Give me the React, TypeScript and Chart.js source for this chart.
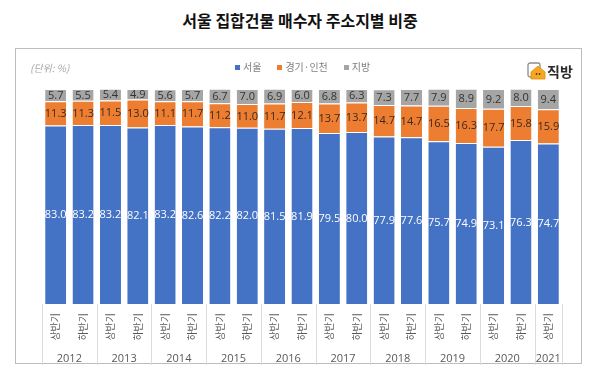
import React, { useEffect, useRef } from "react";
import { Chart, registerables } from "chart.js";

Chart.register(...registerables);

const halfLabels = [
  "상반기", "하반기", "상반기", "하반기", "상반기", "하반기", "상반기", "하반기",
  "상반기", "하반기", "상반기", "하반기", "상반기", "하반기", "상반기", "하반기",
  "상반기", "하반기", "상반기",
];
const categoryYears = [
  "2012", "2012", "2013", "2013", "2014", "2014", "2015", "2015", "2016", "2016",
  "2017", "2017", "2018", "2018", "2019", "2019", "2020", "2020", "2021",
];
const seriesNames = ["서울", "경기·인천", "지방"];
const seoul = [83.0, 83.2, 83.2, 82.1, 83.2, 82.6, 82.2, 82.0, 81.5, 81.9, 79.5, 80.0, 77.9, 77.6, 75.7, 74.9, 73.1, 76.3, 74.7];
const gyeonggi = [11.3, 11.3, 11.5, 13.0, 11.1, 11.7, 11.2, 11.0, 11.7, 12.1, 13.7, 13.7, 14.7, 14.7, 16.5, 16.3, 17.7, 15.8, 15.9];
const regional = [5.7, 5.5, 5.4, 4.9, 5.6, 5.7, 6.7, 7.0, 6.9, 6.0, 6.8, 6.3, 7.3, 7.7, 7.9, 8.9, 9.2, 8.0, 9.4];

const COLORS = ["#4472C4", "#ED7D31", "#A5A5A5"];
const LABEL_COLORS = ["#ffffff", "#3b2a1e", "#333333"];
const KFONT = "'Noto Sans CJK KR', 'Noto Sans', sans-serif";
const NFONT = "'Open Sans', 'Noto Sans', sans-serif";

const valueLabelPlugin = {
  id: "valueLabels",
  afterDatasetsDraw(chart: any) {
    const ctx = chart.ctx;
    ctx.save();
    ctx.font = `11px ${NFONT}`;
    ctx.textAlign = "center";
    ctx.textBaseline = "middle";
    chart.data.datasets.forEach((ds: any, di: number) => {
      const meta = chart.getDatasetMeta(di);
      ctx.fillStyle = LABEL_COLORS[di];
      meta.data.forEach((el: any, i: number) => {
        const { x, y, base } = el.getProps(["x", "y", "base"], true);
        ctx.fillText(ds.data[i].toFixed(1), x, (y + base) / 2 + 0.5);
      });
    });
    ctx.restore();
  },
};

const yearGroupPlugin = {
  id: "yearGroups",
  afterDraw(chart: any) {
    const ctx = chart.ctx;
    const xs = chart.scales.x;
    const step = xs.getPixelForValue(1) - xs.getPixelForValue(0);
    const top = chart.chartArea.bottom;
    const bottom = xs.bottom;
    ctx.save();
    ctx.strokeStyle = "#dcdcdc";
    ctx.lineWidth = 1;
    ctx.font = `11px ${NFONT}`;
    ctx.fillStyle = "#595959";
    ctx.textAlign = "center";
    ctx.textBaseline = "middle";
    let start = 0;
    for (let i = 1; i <= categoryYears.length; i++) {
      if (i === categoryYears.length || categoryYears[i] !== categoryYears[start]) {
        const left = xs.getPixelForValue(start) - step / 2;
        const right = xs.getPixelForValue(i - 1) + step / 2;
        ctx.beginPath();
        ctx.moveTo(Math.round(left) + 0.5, top);
        ctx.lineTo(Math.round(left) + 0.5, bottom);
        ctx.moveTo(Math.round(right) + 0.5, top);
        ctx.lineTo(Math.round(right) + 0.5, bottom);
        ctx.stroke();
        ctx.fillText(categoryYears[start], (left + right) / 2, bottom - 6);
        start = i;
      }
    }
    ctx.restore();
  },
};

function ChartBox() {
  const ref = useRef<HTMLCanvasElement | null>(null);
  useEffect(() => {
    if (!ref.current) return;
    const chart = new Chart(ref.current, {
      type: "bar",
      data: {
        labels: halfLabels,
        datasets: [seoul, gyeonggi, regional].map((d, i) => ({
          label: seriesNames[i],
          data: d,
          backgroundColor: COLORS[i],
          borderColor: "#ffffff",
          borderWidth: { top: 1, left: 0, right: 0, bottom: 0 },
          borderSkipped: false,
          barPercentage: 0.77,
          categoryPercentage: 1,
        })),
      },
      options: {
        responsive: false,
        animation: false,
        devicePixelRatio: 1,
        layout: { padding: { left: 42, right: 38, top: 89, bottom: 18 } },
        plugins: { legend: { display: false }, tooltip: { enabled: false } },
        scales: {
          x: {
            stacked: true,
            grid: { display: false, drawTicks: false },
            border: { display: false },
            ticks: {
              autoSkip: false,
              minRotation: 90,
              maxRotation: 90,
              padding: 9,
              color: "#595959",
              font: { size: 10, family: KFONT },
            },
            afterFit(scale: any) {
              scale.height = 61;
            },
          },
          y: {
            stacked: true,
            display: false,
            min: 0,
            max: 100,
          },
        },
      } as any,
      plugins: [valueLabelPlugin, yearGroupPlugin],
    });
    return () => chart.destroy();
  }, []);
  return (
    <canvas
      ref={ref}
      width={600}
      height={383}
      style={{ position: "absolute", left: 0, top: 0, width: 600, height: 383 }}
    />
  );
}

export default function App() {
  return (
    <div
      style={{
        position: "fixed",
        left: 0,
        top: 0,
        width: 600,
        height: 383,
        background: "#ffffff",
        fontFamily: KFONT,
        overflow: "hidden",
      }}
    >
      <div
        style={{
          position: "absolute",
          left: 0,
          top: 8,
          width: 600,
          textAlign: "center",
          fontSize: 16,
          fontWeight: 700,
          color: "#111",
          lineHeight: "24px",
        }}
      >
        서울 집합건물 매수자 주소지별 비중
      </div>
      <div
        style={{
          position: "absolute",
          left: 15,
          top: 48,
          width: 567,
          height: 316,
          border: "1px solid #bdbdbd",
          boxSizing: "border-box",
        }}
      />
      <ChartBox />
      <div
        style={{
          position: "absolute",
          left: 30,
          top: 60,
          fontSize: 10,
          fontStyle: "italic",
          color: "#a6a6a6",
          lineHeight: "16px",
        }}
      >
        (단위: %)
      </div>
      <div
        style={{
          position: "absolute",
          left: 235,
          top: 59,
          display: "flex",
          alignItems: "center",
          fontSize: 10,
          color: "#808080",
          lineHeight: "16px",
        }}
      >
        {seriesNames.map((n, i) => (
          <span key={n} style={{ display: "flex", alignItems: "center", marginRight: i < 2 ? 16 : 0 }}>
            <span style={{ width: 5, height: 5, background: COLORS[i], marginRight: 3, display: "inline-block" }} />
            {n}
          </span>
        ))}
      </div>
      <div
        style={{
          position: "absolute",
          left: 527,
          top: 62,
          display: "flex",
          alignItems: "center",
        }}
      >
        <svg width="19" height="18" viewBox="0 0 19 18">
          <rect x="1" y="1" width="12" height="14" rx="2" fill="#ffffff" stroke="#8c8c8c" strokeWidth="1.3" />
          <path d="M4 10 L11 4 L18 10 L18 17 L4 17 Z" fill="#F5A623" stroke="#e08e0b" strokeWidth="0.8" />
          <circle cx="9.5" cy="12" r="0.9" fill="#5a3a10" />
          <circle cx="12.5" cy="12" r="0.9" fill="#5a3a10" />
        </svg>
        <span style={{ fontSize: 14, fontWeight: 700, color: "#2b2b2b", marginLeft: 1, lineHeight: "18px" }}>직방</span>
      </div>
    </div>
  );
}
